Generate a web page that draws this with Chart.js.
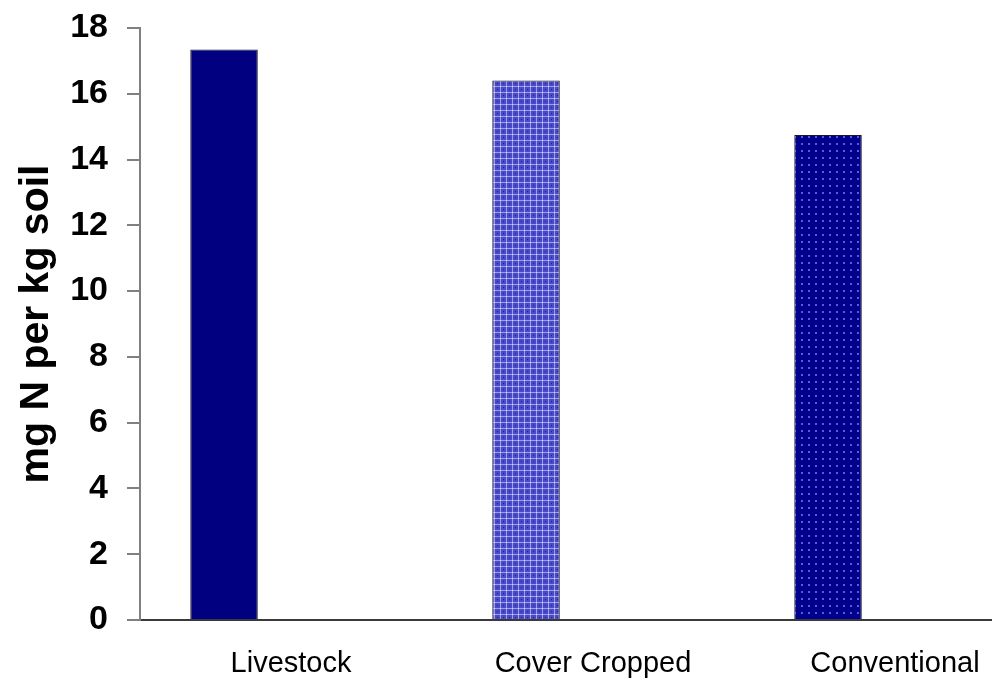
<!DOCTYPE html>
<html>
<head>
<meta charset="utf-8">
<script src="https://cdn.jsdelivr.net/npm/chart.js@4/dist/chart.umd.min.js"></script>
<style>
  html, body { margin: 0; padding: 0; background: #fff; overflow: hidden; }
  #wrap { width: 992px; height: 689px; overflow: hidden; position: relative; }
  #box { width: 1050px; height: 689px; position: absolute; left: 0; top: 0; }
</style>
</head>
<body>
<div id="wrap"><div id="box"><canvas id="c" width="1050" height="689"></canvas></div></div>
<script>
// Soil mineral nitrogen by farming system
const categories = ['Livestock', 'Cover Cropped', 'Conventional'];
const nitrogenValues = [17.35, 16.4, 14.75];
const emptySeries = [null, null, null];
const yTicks = [0, 2, 4, 6, 8, 10, 12, 14, 16, 18];

// Fill patterns for the bars
function makePattern(size, base, paint) {
  const c = document.createElement('canvas');
  c.width = size; c.height = size;
  const g = c.getContext('2d');
  g.fillStyle = base;
  g.fillRect(0, 0, size, size);
  paint(g);
  return g.createPattern(c, 'repeat');
}
const ctx = document.getElementById('c').getContext('2d');

const solidNavy = '#000080';
const lattice = makePattern(6, '#4a4ac4', g => {
  g.fillStyle = '#9c9cec';
  g.fillRect(0, 2, 6, 1);
  g.fillRect(2, 0, 1, 6);
  g.fillStyle = '#d8d8ff';
  g.fillRect(2, 2, 1, 1);
  g.fillStyle = '#20209c';
  g.fillRect(5, 5, 1, 1);
});
const dotted = makePattern(7, '#00008c', g => {
  g.fillStyle = '#5c5cd8';
  g.fillRect(3, 3, 2, 2);
});

const fills = [solidNavy, lattice, dotted];

const font = "'Liberation Sans', Arial, sans-serif";

new Chart(ctx, {
  type: 'bar',
  data: {
    labels: categories,
    datasets: [
      {
        data: nitrogenValues,
        backgroundColor: fills,
        borderColor: '#1a1a1a',
        borderWidth: 1,
        categoryPercentage: 0.887,
        barPercentage: 0.504
      },
      {
        data: emptySeries,
        backgroundColor: '#ffffff',
        categoryPercentage: 0.887,
        barPercentage: 0.504
      }
    ]
  },
  options: {
    responsive: false,
    animation: false,
    events: [],
    layout: { padding: { top: 28, right: 4, left: 0, bottom: 0 } },
    plugins: {
      legend: { display: false },
      tooltip: { enabled: false }
    },
    scales: {
      x: {
        grid: { display: false, drawTicks: false },
        border: { display: true, color: '#3a3a3a', width: 2 },
        ticks: {
          color: '#000',
          padding: 27,
          maxRotation: 0,
          autoSkip: false,
          font: { family: font, size: 29 }
        },
        afterFit: s => { s.height = 69; }
      },
      y: {
        min: 0,
        max: 18,
        afterBuildTicks: s => { s.ticks = yTicks.map(v => ({ value: v })); },
        grid: {
          drawOnChartArea: false,
          drawTicks: true,
          tickLength: 13,
          color: '#808080',
          lineWidth: 2
        },
        border: { display: true, color: '#808080', width: 2 },
        ticks: {
          color: '#000',
          padding: 19,
          font: { family: font, size: 34, weight: 'bold' }
        },
        title: {
          display: true,
          text: 'mg N per kg soil',
          color: '#000',
          padding: { top: 12, bottom: 0 },
          font: { family: font, size: 41, weight: 'bold' }
        },
        afterFit: s => {
          s.width = 140;
          s.paddingTop = 0;
          s.paddingBottom = 0;
        }
      }
    }
  }
});
</script>
</body>
</html>
